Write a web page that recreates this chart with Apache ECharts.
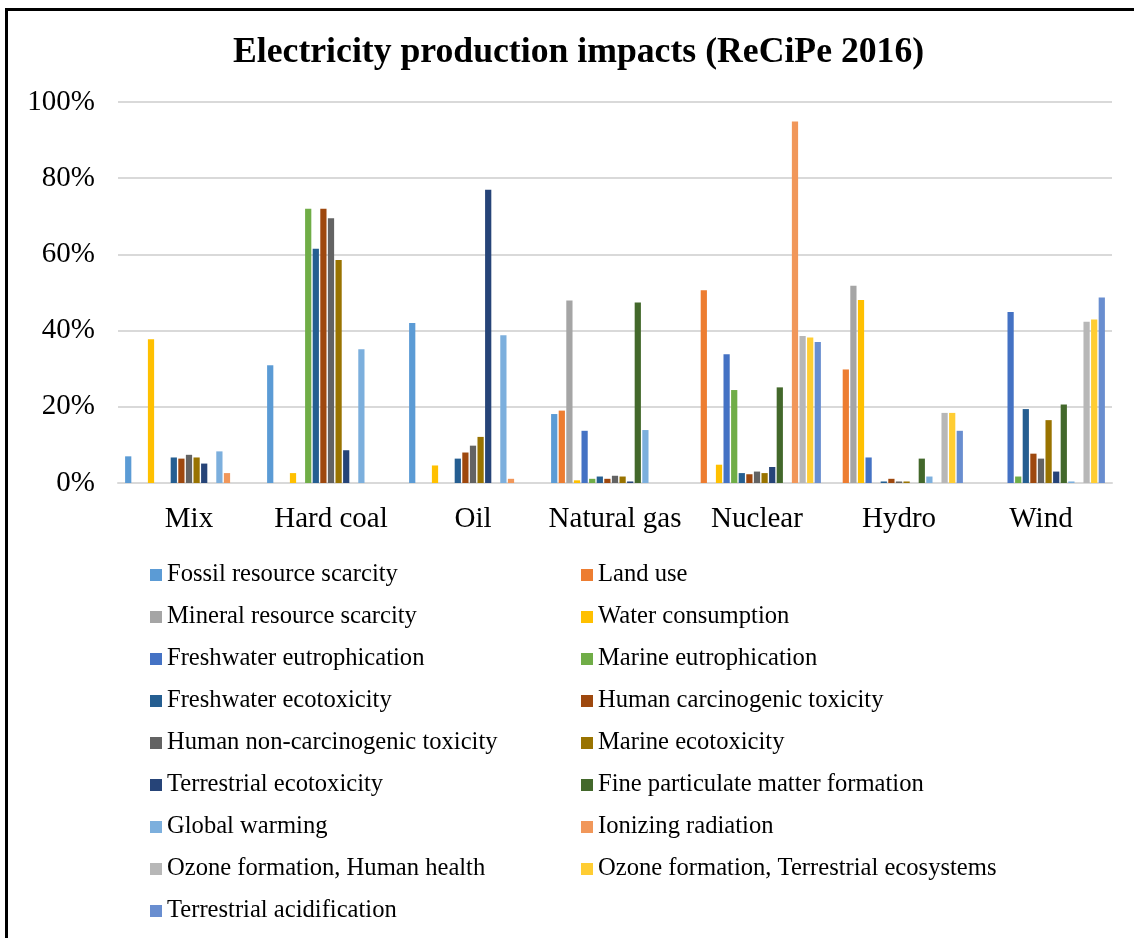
<!DOCTYPE html>
<html>
<head>
<meta charset="utf-8">
<script src="https://cdn.jsdelivr.net/npm/echarts@6/dist/echarts.min.js"></script>
<style>
  html, body { margin: 0; padding: 0; background: #fff; }
  #chart { width: 1134px; height: 938px; }
  #frame {
    position: absolute; left: 5px; top: 8px; width: 1200px; height: 1000px;
    border-left: 3px solid #000; border-top: 3px solid #000; pointer-events: none;
  }
</style>
</head>
<body>
<div id="chart"></div>
<div id="frame"></div>
<script>
// values in percent
const categories = ['Mix', 'Hard coal', 'Oil', 'Natural gas', 'Nuclear', 'Hydro', 'Wind']
const yTicks = [0, 20, 40, 60, 80, 100]

const fossilResource = [7.0, 30.9, 42.0, 18.1, 0, 0, 0]
const landUse = [0, 0, 0, 19.0, 50.6, 29.8, 0]
const mineralResource = [0, 0, 0, 47.9, 0, 51.8, 0]
const waterConsumption = [37.7, 2.6, 4.6, 0.7, 4.8, 48.0, 0]
const freshwaterEutro = [0, 0, 0, 13.7, 33.8, 6.7, 44.9]
const marineEutro = [0, 72.0, 0, 1.1, 24.4, 0, 1.7]
const freshwaterEcotox = [6.7, 61.5, 6.4, 1.7, 2.6, 0.4, 19.4]
const humanCarc = [6.4, 72.0, 8.0, 1.1, 2.3, 1.1, 7.7]
const humanNonCarc = [7.4, 69.5, 9.8, 1.9, 3.0, 0.4, 6.4]
const marineEcotox = [6.7, 58.5, 12.1, 1.7, 2.6, 0.4, 16.5]
const terrestrialEcotox = [5.1, 8.6, 77.0, 0.4, 4.2, 0, 3.0]
const finePM = [0, 0, 0, 47.4, 25.1, 6.4, 20.6]
const globalWarming = [8.3, 35.1, 38.8, 13.9, 0, 1.7, 0.4]
const ionizing = [2.6, 0, 1.1, 0, 94.9, 0, 0]
const ozoneHuman = [0, 0, 0, 0, 38.6, 18.4, 42.3]
const ozoneTerrestrial = [0, 0, 0, 0, 38.2, 18.4, 42.9]
const terrestrialAcid = [0, 0, 0, 0, 37.0, 13.7, 48.7]

const seriesNames = [
  'Fossil resource scarcity', 'Land use',
  'Mineral resource scarcity', 'Water consumption',
  'Freshwater eutrophication', 'Marine eutrophication',
  'Freshwater ecotoxicity', 'Human carcinogenic toxicity',
  'Human non-carcinogenic toxicity', 'Marine ecotoxicity',
  'Terrestrial ecotoxicity', 'Fine particulate matter formation',
  'Global warming', 'Ionizing radiation',
  'Ozone formation, Human health', 'Ozone formation, Terrestrial ecosystems',
  'Terrestrial acidification'
]
const seriesValues = [
  fossilResource, landUse, mineralResource, waterConsumption,
  freshwaterEutro, marineEutro, freshwaterEcotox, humanCarc,
  humanNonCarc, marineEcotox, terrestrialEcotox, finePM,
  globalWarming, ionizing, ozoneHuman, ozoneTerrestrial, terrestrialAcid
]
const colors = [
  '#5B9BD5', '#ED7D31', '#A5A5A5', '#FFC000', '#4472C4', '#70AD47',
  '#255E91', '#9E480E', '#636363', '#997300', '#264478', '#43682B',
  '#7CAFDD', '#F1975A', '#B7B7B7', '#FFCD33', '#698ED0'
]

const font = '"Liberation Serif", "Times New Roman", serif'

const legendStyle = {
  orient: 'vertical',
  top: 557,
  icon: 'rect',
  itemWidth: 12,
  itemHeight: 12,
  itemGap: 16,
  textStyle: { fontFamily: font, fontSize: 24.6, color: '#000', lineHeight: 26 }
}

var myChart = echarts.init(document.getElementById('chart'))
myChart.setOption({
  animation: false,
  color: colors,
  title: {
    text: 'Electricity production impacts (ReCiPe 2016)',
    left: 228,
    top: 30,
    textStyle: { fontFamily: font, fontSize: 35.7, fontWeight: 'bold', color: '#000' }
  },
  legend: [
    Object.assign({ left: 145, data: seriesNames.filter((n, i) => i % 2 === 0) }, legendStyle),
    Object.assign({ left: 576, data: seriesNames.filter((n, i) => i % 2 === 1) }, legendStyle)
  ],
  grid: {
    left: 118,
    right: 22,
    top: 102,
    height: 381,
    containLabel: false
  },
  xAxis: {
    type: 'category',
    data: categories,
    axisTick: { show: false },
    axisLine: { show: true, lineStyle: { color: '#d9d9d9', width: 2 } },
    axisLabel: { interval: 0, fontFamily: font, fontSize: 29, color: '#000', margin: 22 }
  },
  yAxis: {
    type: 'value',
    min: yTicks[0],
    max: yTicks[yTicks.length - 1],
    interval: 20,
    axisLine: { show: false },
    axisTick: { show: false },
    splitLine: { show: true, lineStyle: { color: '#d9d9d9', width: 2 } },
    axisLabel: { fontFamily: font, fontSize: 29, color: '#000', margin: 23, formatter: '{value}%' }
  },
  series: seriesNames.map((name, i) => ({
    name: name,
    type: 'bar',
    data: seriesValues[i],
    barGap: '22%',
    barCategoryGap: '10%'
  }))
})
</script>
</body>
</html>
